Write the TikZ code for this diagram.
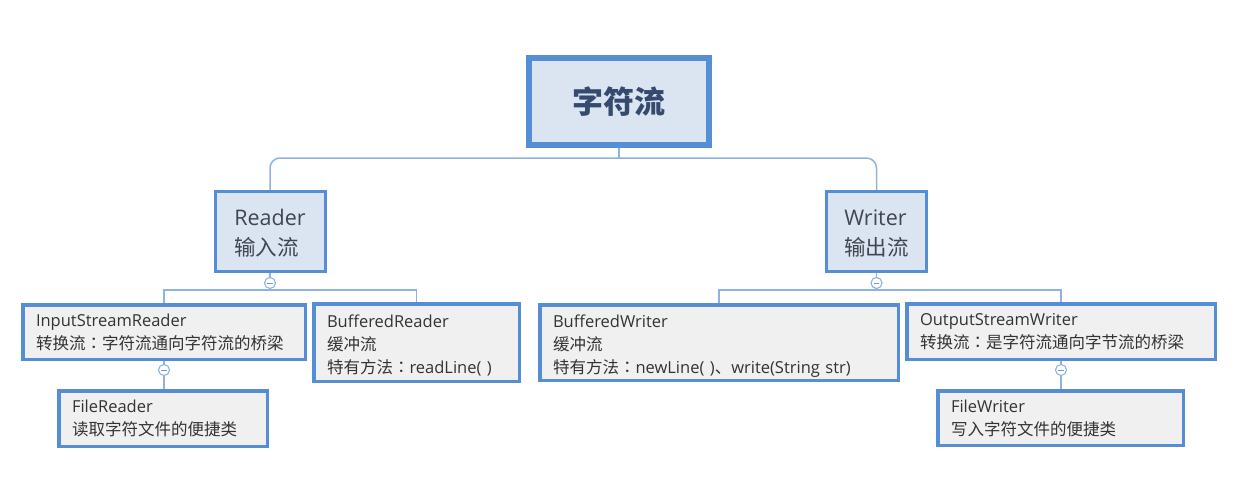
\documentclass[tikz,border=0pt]{standalone}
\usepackage{fontspec}
\setmainfont{Open Sans}
\newfontfamily\cjk{Noto Sans CJK SC}
\newfontfamily\cjktc{Noto Sans CJK TC}
\newcommand\zh[1]{{\cjk #1}}
\newcommand\zcolon{{\cjktc ：}}
\newcommand\lifta{\rule{0pt}{19.5pt}}
\newcommand\liftb{\rule{0pt}{20pt}}
\definecolor{bordc}{HTML}{558ED5}
\definecolor{connc}{HTML}{8DB3E2}
\definecolor{bluef}{HTML}{DBE5F1}
\definecolor{leaff}{HTML}{F0F0F0}
\definecolor{txtc}{HTML}{333333}
\definecolor{midtxt}{HTML}{3F4652}
\definecolor{roottxt}{HTML}{354A6E}
\definecolor{minusc}{HTML}{6C9BD2}
\tikzset{
  rootbox/.style={draw=bordc, fill=bluef, line width=6pt, minimum width=180pt, minimum height=87pt,
    inner sep=0pt, text=roottxt, font=\fontsize{31}{36}\selectfont},
  midbox/.style={draw=bordc, fill=bluef, line width=3pt, minimum width=110pt, minimum height=80pt,
    inner sep=0pt, align=left, text=midtxt, font=\fontsize{21.5}{30}\selectfont},
  leafbox/.style={draw=bordc, fill=leaff, line width=3.5pt, inner xsep=13.25pt, inner ysep=0pt,
    text width=#1, align=left, text=txtc, font=\fontsize{16.5}{23}\selectfont},
  conn/.style={draw=connc, line width=1.5pt},
  toggle/.style={circle, draw=connc, fill=white, line width=1.1pt, minimum size=11pt, inner sep=0pt},
  minusline/.style={draw=minusc, line width=1pt}
}
\begin{document}
\begin{tikzpicture}[x=1pt,y=-1pt]
\useasboundingbox[fill=white] (0,0) rectangle (1236,490);

% nodes
\node[rootbox] (root) at (619,101.5) {\zh{\bfseries 字符流}};
\node[midbox] (reader) at (270,231.5) {\liftb Reader\\\zh{输入流}};
\node[midbox, minimum width=100pt] (writer) at (876.5,231.5) {\liftb Writer\\\zh{输出流}};

\node[leafbox=256pt, minimum height=54.5pt] (isr) at (164,332)
  {InputStreamReader\\\zh{转换流}\zcolon\zh{字符流通向字符流的桥梁}};
\node[leafbox=179pt, minimum height=77.5pt] (br) at (416.5,342.5)
  {\lifta BufferedReader\\\zh{缓冲流}\\\zh{特有方法}\zcolon readLine( )};
\node[leafbox=182pt, minimum height=55.5pt] (fr) at (163,418.5)
  {FileReader\\\zh{读取字符文件的便捷类}};

\node[leafbox=332pt, minimum height=75.5pt] (bw) at (719,342.5)
  {\lifta BufferedWriter\\\zh{缓冲流}\\\zh{特有方法}\zcolon newLine( )\zh{、}write(String str)};
\node[leafbox=282pt, minimum height=55.5pt] (osw) at (1061,331.5)
  {OutputStreamWriter\\\zh{转换流}\zcolon\zh{是字符流通向字节流的桥梁}};
\node[leafbox=219pt, minimum height=54.5pt] (fw) at (1060.5,418)
  {FileWriter\\\zh{写入字符文件的便捷类}};

% toggles
\node[toggle] (t1) at (270,283) {};
\node[toggle] (t2) at (876.5,283) {};
\node[toggle] (t3) at (164,370) {};
\node[toggle] (t4) at (1061,370) {};
\foreach \t in {t1,t2,t3,t4}{
  \draw[minusline] ([xshift=-2.6pt]\t.center) -- ([xshift=2.6pt]\t.center);
}

% bus coordinates
\coordinate (topbus) at (619,158);
\coordinate (rbus) at (270,290);
\coordinate (wbus) at (876.5,290);

% connectors
\draw[conn] (root.south) -- (topbus);
\draw[conn, rounded corners=10pt] (reader.north) |- (topbus) -| (writer.north);

\draw[conn] (reader.south) -- (t1.north);
\draw[conn] (t1.south) -- (rbus);
\draw[conn] (isr.north) |- (rbus) -| (br.north);

\draw[conn] (writer.south) -- (t2.north);
\draw[conn] (t2.south) -- (wbus);
\draw[conn] (bw.north) |- (wbus) -| (osw.north);

\draw[conn] (isr.south) -- (t3.north);
\draw[conn] (t3.south) -- (t3.south |- fr.north);

\draw[conn] (osw.south) -- (t4.north);
\draw[conn] (t4.south) -- (t4.south |- fw.north);
\end{tikzpicture}
\end{document}
